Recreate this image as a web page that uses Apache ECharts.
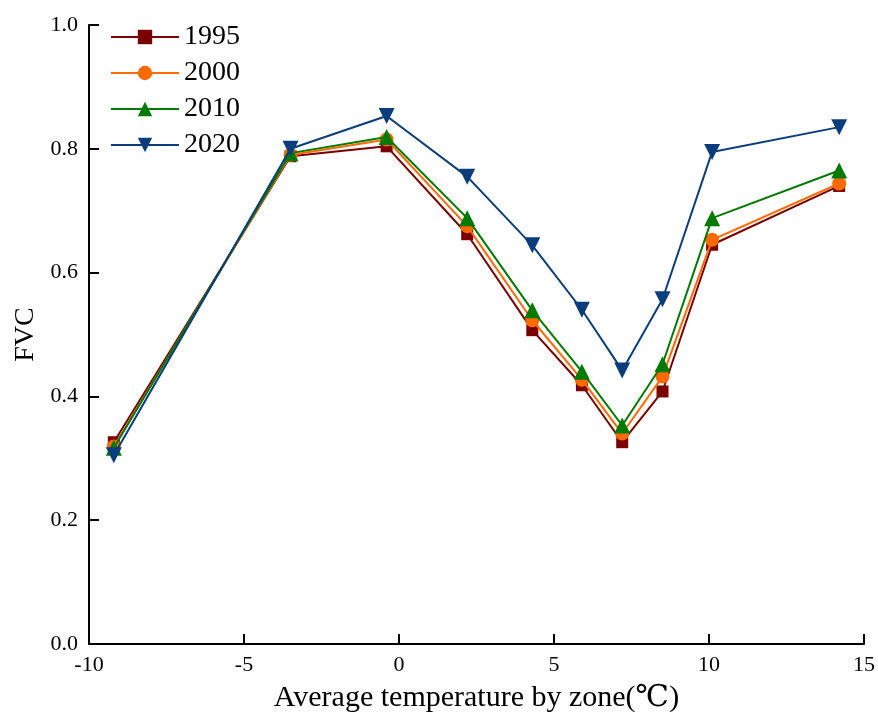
<!DOCTYPE html>
<html>
<head>
<meta charset="utf-8">
<script src="https://cdn.jsdelivr.net/npm/echarts@6/dist/echarts.min.js"></script>
<style>html,body{margin:0;padding:0;background:#fff;overflow:hidden}#c{width:878px;height:718px}</style>
</head>
<body>
<div id="c"></div>
<script>
// Data
const xVals = [-9.2, -3.5, -0.4, 2.2, 4.3, 5.9, 7.2, 8.5, 10.1, 14.2];
const fvc1995 = [0.326, 0.788, 0.804, 0.662, 0.507, 0.418, 0.326, 0.408, 0.645, 0.740];
const fvc2000 = [0.319, 0.790, 0.815, 0.675, 0.523, 0.427, 0.340, 0.432, 0.653, 0.744];
const fvc2010 = [0.317, 0.793, 0.819, 0.688, 0.539, 0.440, 0.353, 0.452, 0.688, 0.765];
const fvc2020 = [0.305, 0.800, 0.853, 0.755, 0.644, 0.540, 0.442, 0.557, 0.795, 0.835];
const seriesNames = ['1995', '2000', '2010', '2020'];
const xTicks = [-10, -5, 0, 5, 10, 15];
const yTicks = [0.0, 0.2, 0.4, 0.6, 0.8, 1.0];

const font = "'Liberation Serif','Times New Roman','DejaVu Serif',serif";
const pairs = ys => xVals.map((x, i) => [x, ys[i]]);

const styles = [
  {color: '#7a0000', symbol: 'rect', size: 12, rot: 0},
  {color: '#ff6a00', symbol: 'circle', size: 14, rot: 0},
  {color: '#007a00', symbol: 'triangle', size: 16, rot: 0},
  {color: '#0a3d7c', symbol: 'triangle', size: 16, rot: 180}
];
const allData = [fvc1995, fvc2000, fvc2010, fvc2020];

const chart = echarts.init(document.getElementById('c'), null, {renderer: 'canvas', width: 878, height: 718});
chart.setOption({
  animation: false,
  backgroundColor: '#fff',
  grid: {left: 89, top: 25, width: 777, height: 624, containLabel: false},
  legend: {
    orient: 'vertical', left: 105, top: 18,
    itemWidth: 68, itemHeight: 18, itemGap: 8,
    data: seriesNames,
    textStyle: {fontFamily: font, fontSize: 28, lineHeight: 28, color: '#000', padding: [0, 0, 0, 0]}
  },
  xAxis: {
    type: 'value', min: -10, max: 15, interval: 5,
    name: 'Average temperature by zone(℃)', nameLocation: 'middle', nameGap: 39,
    nameTextStyle: {fontFamily: font, fontSize: 30, color: '#000'},
    axisLine: {show: true, onZero: false, lineStyle: {color: '#000', width: 2}},
    axisTick: {show: true, inside: true, length: 10, lineStyle: {color: '#000', width: 2}},
    axisLabel: {fontFamily: font, fontSize: 22, color: '#000', margin: 10,
      formatter: v => xTicks.includes(v) ? String(v) : ''},
    splitLine: {show: false}
  },
  yAxis: {
    type: 'value', min: 0, max: 1, interval: 0.2,
    name: 'FVC', nameLocation: 'middle', nameGap: 47, nameRotate: 90,
    nameTextStyle: {fontFamily: font, fontSize: 28, color: '#000'},
    axisLine: {show: true, onZero: false, lineStyle: {color: '#000', width: 2}},
    axisTick: {show: true, inside: true, length: 10, lineStyle: {color: '#000', width: 2}},
    axisLabel: {fontFamily: font, fontSize: 22, color: '#000', margin: 11,
      formatter: v => yTicks.some(t => Math.abs(t - v) < 1e-9) ? v.toFixed(1) : ''},
    splitLine: {show: false}
  },
  series: seriesNames.map((n, i) => ({
    name: n, type: 'line',
    data: pairs(allData[i]),
    symbol: styles[i].symbol, symbolSize: styles[i].size, symbolRotate: styles[i].rot,
    showAllSymbol: true,
    lineStyle: {color: styles[i].color, width: 2},
    itemStyle: {color: styles[i].color, borderWidth: 0},
    z: 2 + i
  }))
});
</script>
</body>
</html>
